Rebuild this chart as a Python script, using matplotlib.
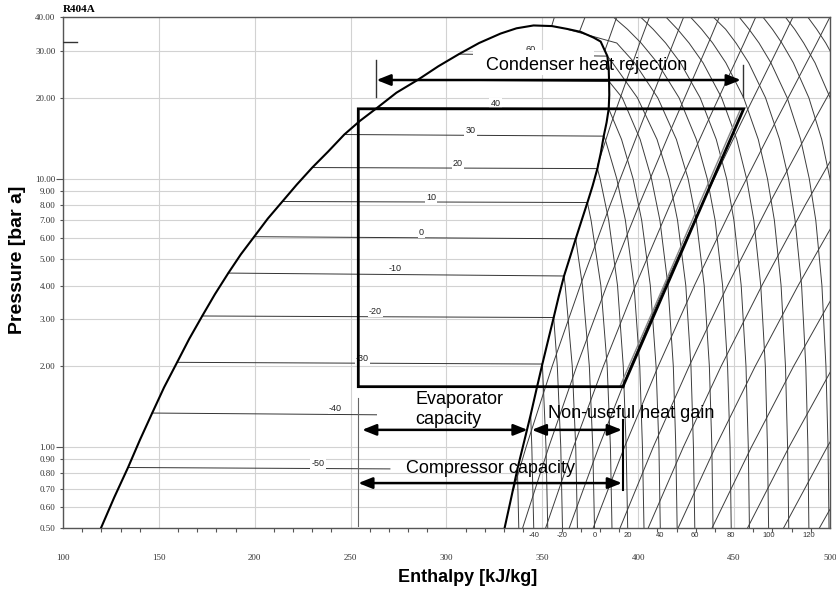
import numpy as np
import matplotlib
matplotlib.use("Agg")
import matplotlib.pyplot as plt
from matplotlib.patches import Rectangle
from matplotlib.transforms import offset_copy
from matplotlib.ticker import FixedLocator, FixedFormatter, MultipleLocator, NullLocator

plt.rcParams['font.family'] = ['Liberation Sans', 'DejaVu Sans']

# ---- axes ticks
X_TICKS = [100, 150, 200, 250, 300, 350, 400, 450, 500]
Y_TICKS = [0.5, 0.6, 0.7, 0.8, 0.9, 1, 2, 3, 4, 5, 6, 7, 8, 9, 10, 20, 30, 40]

# ---- saturation dome (R404A)
SAT_T = [-60, -55, -50, -45, -40, -35, -30, -25, -20, -15, -10, -5, 0,
         5, 10, 15, 20, 25, 30, 35, 40, 45, 50, 55, 60]
SAT_P_BUB = [0.5, 0.65, 0.84, 1.064, 1.34, 1.67, 2.07, 2.53, 3.08, 3.71, 4.45, 5.22, 6.08,
             7.1, 8.22, 9.5, 11.0, 12.6, 14.6, 16.4, 18.4, 20.9, 23.3, 26.2, 29.1]
SAT_P_DEW = [0.5, 0.645, 0.83, 1.05, 1.32, 1.65, 2.04, 2.5, 3.04, 3.66, 4.34, 5.1, 5.97,
             7.0, 8.15, 9.4, 10.9, 12.5, 14.4, 16.2, 18.2, 20.5, 23.0, 25.7, 28.6]
SAT_HL = [119.8, 126.7, 133.9, 140.1, 146.5, 152.7, 159.5, 165.8, 172.6, 179.2, 186.2, 192.7, 199.7,
          206.8, 214.4, 221.9, 230.0, 238.2, 246.7, 254.8, 264.0, 273.9, 284.9, 295.7, 306.5]
SAT_HV = [330.3, 333.7, 337.0, 340.5, 343.9, 347.0, 350.0, 353.0, 355.9, 358.6, 361.3, 364.4, 367.4,
          370.5, 373.5, 376.2, 378.7, 380.5, 382.0, 383.5, 384.6, 384.9, 384.8, 384.6, 383.9]
# near the critical point (liquid side -> critical -> vapour side)
TOP_H = [317.0, 328.2, 336.5, 345.4, 355.0, 363.0, 370.0, 376.8, 380.4]
TOP_P = [32.0, 34.7, 36.3, 37.2, 37.0, 36.1, 35.2, 33.5, 32.4]

# isotherms inside the dome: label position and (where cut short) end enthalpy
DOME_T = [-50, -40, -30, -20, -10, 0, 10, 20, 30, 40, 50, 60]
DOME_LABEL_H = [233, 242, 256, 263, 273, 287, 292, 306, 312.5, 325.6, None, 344]
DOME_END_H = [270.5, 263.5, None, None, None, None, None, None, None, None, None, None]

# ---- superheated isotherms, enthalpy at each pressure level
P_GRID = [0.5, 1, 2, 4, 7, 10, 14, 20, 27, 32, 36, 40]
ISO_T = [-50, -40, -30, -20, -10, 0, 10, 20, 30, 40, 50, 60, 70,
         80, 90, 100, 110, 120, 130, 140, 150, 160]
N = None
ISO_H = [
    [337.7],
    [345.5, 344.5],
    [352.8, 351.9],
    [360.5, 359.6, 357.8],
    [368.3, 367.4, 365.6, 361.9],
    [377.2, 376.3, 374.5, 370.9],
    [386.3, 385.5, 383.8, 380.5, 375.4],
    [394.5, 393.7, 392.2, 389.2, 384.6, 380.1],
    [403.0, 402.2, 400.8, 397.8, 393.3, 388.8, 382.8],
    [411.5, 410.8, 409.3, 406.3, 401.8, 397.3, 391.3],
    [420.3, 419.6, 418.3, 415.5, 411.3, 406.9, 401.0, 391.7],
    [429.5, 428.8, 427.5, 424.8, 420.5, 416.1, 409.8, 399.6, 386.6],
    [439.0, 438.4, 437.1, 434.4, 430.3, 426.0, 419.9, 410.2, 398.1, 388.8],
    [448.5, 447.9, 446.6, 444.0, 440.1, 436.0, 430.3, 421.3, 410.0, 401.5, 394.4, 387.0],
    [458.0, 457.4, 456.2, 453.7, 449.9, 446.1, 440.7, 432.3, 422.0, 414.3, 407.8, 401.2],
    [468.0, 467.4, 466.3, 463.9, 460.3, 456.5, 451.4, 443.5, 433.8, 426.5, 420.5, 414.4],
    [478.5, 477.9, 476.8, 474.5, 471.0, 467.4, 462.6, 455.0, 445.7, 438.8, 433.1, 427.2],
    [489.0, 488.5, 487.4, 485.2, 481.8, 478.4, 473.7, 466.4, 457.6, 451.0, 445.6, 439.1],
    [499.5, 499.0, 497.9, 495.8, 492.6, 489.2, 484.7, 477.7, 469.2, 463.0, 457.8, 452.6],
    [510.0, 509.5, 508.5, 506.4, 503.4, 500.0, 495.7, 489.0, 480.9, 474.9, 470.0, 465.0],
    [N, N, N, N, N, 510.8, 506.6, 500.1, 492.2, 486.3, 481.6, 476.7],
    [N, N, N, N, N, N, N, 511.1, 503.5, 497.8, 493.1, 488.4],
]
# where the isotherm meets the dew line (None = supercritical)
ISO_DEW_H = [337.0, 343.9, 350.0, 355.9, 361.3, 367.4, 373.5, 378.7, 382.0, 384.6, 384.8, 383.9, 363.0]
ISO_DEW_P = [0.83, 1.32, 2.04, 3.04, 4.34, 5.97, 8.15, 10.9, 14.4, 18.2, 23.0, 28.6, 36.0]
ISO_LABELS = [-40, -20, 0, 20, 40, 60, 80, 100, 120]

# ---- isentropes, enthalpy at each pressure level
ISEN_P = [0.5, 1, 2, 4, 8, 16, 32, 40]
ISEN_H = [
    [N, 341.5, 355.1, 369.8, 385.4, 401.7, 418.3, 423.7],
    [339.7, 353.3, 367.9, 383.6, 400.5, 418.3, 436.6, 442.3],
    [351.7, 366.2, 381.8, 398.6, 416.6, 435.7, 455.2, 461.3],
    [364.0, 379.4, 396.0, 413.9, 433.1, 453.4, 474.2, 480.7],
    [376.5, 392.8, 410.4, 429.3, 449.6, 471.1, 493.1, 500.0],
    [390.5, 407.8, 426.5, 446.6, 468.1, 490.8, 514.2],
    [405.2, 423.5, 443.2, 464.5, 487.2, 511.3],
    [420.8, 440.2, 461.0, 483.4, 507.4],
    [438.5, 459.0, 481.0, 504.7],
    [457.0, 478.6, 501.8],
    [475.8, 498.5, 522.9],
    [494.5, 518.3],
    [N, N, N, N, N, 385.8, 400.8, 405.9],
    [N, N, N, N, N, N, 384.0, 388.8],
    [N, N, N, N, N, N, N, 372.3],
    [N, N, N, N, N, N, N, 356.3],
]
# isentropes that leave the dew line above 0.5 bar
ISEN_START_H = [334.8, N, N, N, N, N, N, N, N, N, N, N, 378.8, 382.6, 369.3, 354.8]
ISEN_START_P = [0.69, N, N, N, N, N, N, N, N, N, N, N, 11.2, 30.0, 35.2, 36.9]

# ---- refrigeration cycle
CYCLE_H = [392, 455, 254, 254, 392]
CYCLE_P = [1.68, 18.2, 18.2, 1.68, 1.68]

MESH_COLOR = '#3c3c3c'

fig = plt.figure(figsize=(8.37, 5.92), dpi=100)
ax = fig.add_axes([0.0753, 0.1081, 0.9163, 0.8632])
ax.set_yscale('log')
ax.set_xlim(100, 500)
ax.set_ylim(0.5, 40)

# axes styling
ax.set_xticks(X_TICKS)
ax.set_xticklabels([str(v) for v in X_TICKS])
ax.xaxis.set_minor_locator(MultipleLocator(10))
ax.yaxis.set_major_locator(FixedLocator(Y_TICKS))
ax.yaxis.set_major_formatter(FixedFormatter(['%.2f' % v for v in Y_TICKS]))
ax.yaxis.set_minor_locator(NullLocator())
ax.grid(True, which='major', color='#d2d2d2', lw=0.8)
ax.set_axisbelow(True)
ax.tick_params(axis='x', which='major', length=0, pad=19, labelsize=6.5, labelcolor='#333')
ax.tick_params(axis='x', which='minor', length=3, width=0.8, color='#555')
ax.tick_params(axis='y', length=2.5, width=0.8, color='#555', pad=3, labelsize=6.5, labelcolor='#333')
for lab in ax.get_xticklabels() + ax.get_yticklabels():
    lab.set_family('Liberation Serif')
for tick, v in zip(ax.yaxis.get_major_ticks(), Y_TICKS):
    if v in (1, 10):
        tick.tick1line.set_markersize(5)
for s in ax.spines.values():
    s.set_color('#555')
    s.set_linewidth(1.0)

# superheated isotherms
for i, row in enumerate(ISO_H):
    hs = [h for h in row if h is not None]
    ps = [p for p, h in zip(P_GRID, row) if h is not None]
    if i < len(ISO_DEW_H):
        hs.append(ISO_DEW_H[i])
        ps.append(ISO_DEW_P[i])
    ax.plot(hs, ps, color=MESH_COLOR, lw=0.7, zorder=2)

# isentropes
for i, row in enumerate(ISEN_H):
    hs = [h for h in row if h is not None]
    ps = [p for p, h in zip(ISEN_P, row) if h is not None]
    if ISEN_START_H[i] is not None:
        hs.insert(0, ISEN_START_H[i])
        ps.insert(0, ISEN_START_P[i])
    ax.plot(hs, ps, color=MESH_COLOR, lw=0.7, zorder=2)

# isotherm temperatures under the axis
for t in ISO_LABELS:
    h0 = ISO_H[ISO_T.index(t)][0]
    ax.annotate(str(t), xy=(h0, 0.5), xytext=(0, -5.5), textcoords='offset points',
                ha='center', va='center', fontsize=5.5, color='#333', annotation_clip=False)

# isotherms inside the dome
for i, t in enumerate(DOME_T):
    k = SAT_T.index(t)
    h_end = DOME_END_H[i] if DOME_END_H[i] is not None else SAT_HV[k]
    ax.plot([SAT_HL[k], h_end], [SAT_P_BUB[k], SAT_P_DEW[k]], color='#333', lw=0.7, zorder=2)
    if DOME_LABEL_H[i] is not None:
        ax.annotate(str(t), xy=(DOME_LABEL_H[i], SAT_P_BUB[k]), xytext=(0, 3),
                    textcoords='offset points', ha='center', va='center', fontsize=6.5,
                    color='#222', zorder=2.2 if t == 60 else 3,
                    bbox=dict(boxstyle='square,pad=0.12', fc='white', ec='none'))

# saturation dome
dome_h = SAT_HL + TOP_H + SAT_HV[::-1]
dome_p = SAT_P_BUB + TOP_P + SAT_P_DEW[::-1]
ax.plot(dome_h, dome_p, color='black', lw=1.5, zorder=3, solid_joinstyle='round')

# small stub at upper left
ax.plot([100, 107.3], [32.3, 32.3], color='#333', lw=1, zorder=3)

# refrigeration cycle
ax.plot(CYCLE_H[:2], CYCLE_P[:2], color='#888', lw=1.0, zorder=4.5,
        transform=offset_copy(ax.transData, fig=fig, x=-3, y=0, units='dots'))
ax.plot(CYCLE_H, CYCLE_P, color='black', lw=2, zorder=5, solid_joinstyle='miter')

# annotations
arrow = dict(arrowstyle='<|-|>,head_length=0.7,head_width=0.28', color='black', lw=1.8,
             shrinkA=0, shrinkB=0, mutation_scale=12)
ax.add_patch(Rectangle((314, 24.4), 62.8, 5.7, fc='white', ec='none', zorder=2.5))
ax.text(373, 26.3, 'Condenser heat rejection', ha='center', va='center', fontsize=13, zorder=6)
ax.annotate('', xy=(453.5, 23.3), xytext=(263.5, 23.3), arrowprops=arrow, zorder=6)
ax.plot([263, 263], [20.1, 27.7], color='#333', lw=1, zorder=6)
ax.plot([454.4, 454.4], [20.1, 26.6], color='#333', lw=1, zorder=6)

ax.text(283.8, 1.38, 'Evaporator\ncapacity', ha='left', va='center', fontsize=13,
        linespacing=1.22, zorder=6)
ax.annotate('', xy=(342.3, 1.16), xytext=(256, 1.16), arrowprops=arrow, zorder=6)
ax.text(352.7, 1.33, 'Non-useful heat gain', ha='left', va='center', fontsize=13, zorder=6)
ax.annotate('', xy=(391.5, 1.16), xytext=(344.5, 1.16), arrowprops=arrow, zorder=6)
ax.plot([392, 392], [0.69, 1.26], color='black', lw=1.5, zorder=6)
ax.plot([254, 254], [0.51, 1.52], color='#666', lw=0.8, zorder=4)

ax.text(323, 0.83, 'Compressor capacity', ha='center', va='center', fontsize=13, zorder=6)
ax.annotate('', xy=(391.5, 0.735), xytext=(254, 0.735), arrowprops=arrow, zorder=6)

# titles
ax.text(0.0, 1.006, 'R404A', transform=ax.transAxes, ha='left', va='bottom',
        fontsize=8, fontweight='bold', family='Liberation Serif')
fig.text(0.559, 0.0253, 'Enthalpy [kJ/kg]', ha='center', va='center',
         fontsize=13, fontweight='bold')
fig.text(0.021, 0.561, 'Pressure [bar a]', ha='center', va='center', rotation=90,
         fontsize=14, fontweight='bold')

fig.savefig('out.png', dpi=100)
